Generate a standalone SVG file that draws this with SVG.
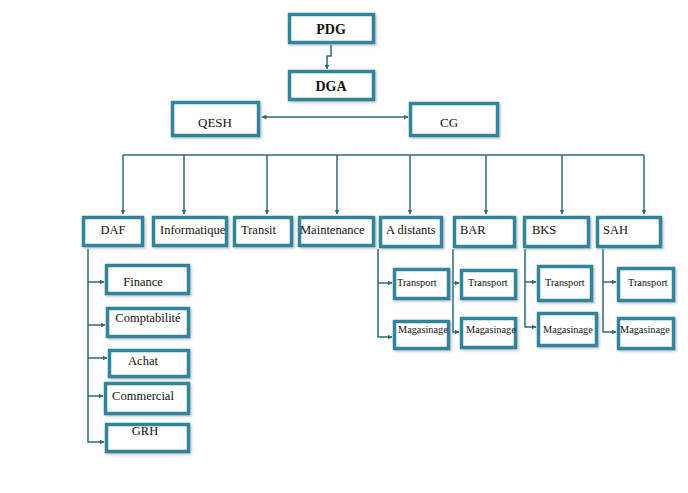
<svg xmlns="http://www.w3.org/2000/svg" width="688" height="493" viewBox="0 0 688 493">
<defs>
<marker id="arr" viewBox="0 0 10 10" refX="9" refY="5" markerWidth="5" markerHeight="5" orient="auto" markerUnits="userSpaceOnUse">
<path d="M0,0 L10,5 L0,10 z" fill="#2f6a7c"/>
</marker>
<marker id="arrs" viewBox="0 0 10 10" refX="1" refY="5" markerWidth="5" markerHeight="5" orient="auto" markerUnits="userSpaceOnUse">
<path d="M10,0 L0,5 L10,10 z" fill="#2f6a7c"/>
</marker>
<filter id="sh" x="-10%" y="-10%" width="125%" height="130%">
<feDropShadow dx="1.5" dy="1.5" stdDeviation="0.8" flood-color="#7f8f95" flood-opacity="0.5"/>
</filter>
</defs>
<style>
.b{fill:#fff;stroke:#31849b;stroke-width:3.5;filter:url(#sh)}
.t{font-family:"Liberation Serif","Times New Roman",serif;font-size:12.5px;fill:#111}
.c{text-anchor:middle}
.bd{font-weight:bold;font-size:14px}
.s{font-size:10.3px}
.ln{fill:none;stroke:#2f6a7c;stroke-width:1.5}
.a{marker-end:url(#arr)}
</style>
<rect width="688" height="493" fill="#fff"/>
<g id="connectors">
<path class="ln a" d="M331,45 V56 H327 V69"/>
<path class="ln a" d="M262,117 H408" marker-start="url(#arrs)"/>
<path class="ln" d="M123,155 H644"/>
<path class="ln a" d="M123,155 V214"/>
<path class="ln a" d="M184,155 V214"/>
<path class="ln a" d="M267,155 V214"/>
<path class="ln a" d="M337,155 V214"/>
<path class="ln a" d="M410,155 V214"/>
<path class="ln a" d="M486,155 V214"/>
<path class="ln a" d="M562,155 V214"/>
<path class="ln a" d="M644,155 V214"/>
<path class="ln a" d="M88,249 V442 H104"/>
<path class="ln a" d="M88,282 H104"/>
<path class="ln a" d="M88,325 H105"/>
<path class="ln a" d="M88,358 H107"/>
<path class="ln a" d="M88,396 H103"/>
<path class="ln a" d="M378,249 V337 H392"/>
<path class="ln a" d="M378,283 H392"/>
<path class="ln a" d="M453,249 V332 H459"/>
<path class="ln a" d="M453,283 H459"/>
<path class="ln a" d="M525,249 V327 H536"/>
<path class="ln a" d="M525,282 H536"/>
<path class="ln a" d="M603,249 V332 H616"/>
<path class="ln a" d="M603,282 H616"/>
</g>
<g id="PDG"><rect class="b" x="289.5" y="14.5" width="84" height="28"/><text class="t c bd" x="331" y="34">PDG</text></g>
<g id="DGA"><rect class="b" x="289.5" y="71.5" width="84" height="28"/><text class="t c bd" x="331" y="91">DGA</text></g>
<g id="QESH"><rect class="b" x="172.5" y="102.5" width="86" height="33"/><text class="t c" x="215" y="127" style="font-size:13px">QESH</text></g>
<g id="CG"><rect class="b" x="410.5" y="103.5" width="87" height="32"/><text class="t c" x="449" y="127" style="font-size:13px">CG</text></g>
<g id="DAF"><rect class="b" x="83.5" y="217.5" width="59" height="28"/><text class="t c" x="113" y="234">DAF</text></g>
<g id="Informatique"><rect class="b" x="153.5" y="217.5" width="73" height="28"/><text class="t" x="160" y="234">Informatique</text></g>
<g id="Transit"><rect class="b" x="234.5" y="217.5" width="57" height="28"/><text class="t" x="241" y="234">Transit</text></g>
<g id="Maintenance"><rect class="b" x="299.5" y="217.5" width="74" height="28"/><text class="t" x="300" y="234">Maintenance</text></g>
<g id="A_distants"><rect class="b" x="380.5" y="217.5" width="61" height="29"/><text class="t" x="386" y="234">A distants</text></g>
<g id="BAR"><rect class="b" x="454.5" y="217.5" width="60" height="29"/><text class="t" x="460" y="234">BAR</text></g>
<g id="BKS"><rect class="b" x="524.5" y="217.5" width="64" height="29"/><text class="t" x="532" y="234">BKS</text></g>
<g id="SAH"><rect class="b" x="597.5" y="217.5" width="63" height="29"/><text class="t" x="603" y="234">SAH</text></g>
<g id="Finance"><rect class="b" x="106.5" y="265.5" width="82" height="28"/><text class="t c" x="143" y="286">Finance</text></g>
<g id="Comptabilite"><rect class="b" x="107.5" y="308.5" width="81" height="28"/><text class="t c" x="148" y="322">Comptabilité</text></g>
<g id="Achat"><rect class="b" x="109.5" y="350.5" width="79" height="26"/><text class="t c" x="143" y="365">Achat</text></g>
<g id="Commercial"><rect class="b" x="105.5" y="383.5" width="83" height="30"/><text class="t c" x="143" y="400">Commercial</text></g>
<g id="GRH"><rect class="b" x="106.5" y="424.5" width="82" height="27"/><text class="t c" x="145" y="435">GRH</text></g>
<g id="AD_Transport"><rect class="b" x="394.5" y="269.5" width="54" height="29"/><text class="t s" x="397" y="286">Transport</text></g>
<g id="AD_Magasinage"><rect class="b" x="394.5" y="321.5" width="54" height="27"/><text class="t s" x="398" y="333">Magasinage</text></g>
<g id="BAR_Transport"><rect class="b" x="461.5" y="270.5" width="54" height="28"/><text class="t s" x="468" y="286">Transport</text></g>
<g id="BAR_Magasinage"><rect class="b" x="461.5" y="318.5" width="54" height="29"/><text class="t s" x="466" y="333">Magasinage</text></g>
<g id="BKS_Transport"><rect class="b" x="538.5" y="266.5" width="53" height="34"/><text class="t s" x="545" y="286">Transport</text></g>
<g id="BKS_Magasinage"><rect class="b" x="538.5" y="313.5" width="58" height="32"/><text class="t s" x="543" y="333">Magasinage</text></g>
<g id="SAH_Transport"><rect class="b" x="618.5" y="268.5" width="55" height="32"/><text class="t s" x="628" y="286">Transport</text></g>
<g id="SAH_Magasinage"><rect class="b" x="618.5" y="318.5" width="55" height="30"/><text class="t s" x="620" y="333">Magasinage</text></g>
</svg>
